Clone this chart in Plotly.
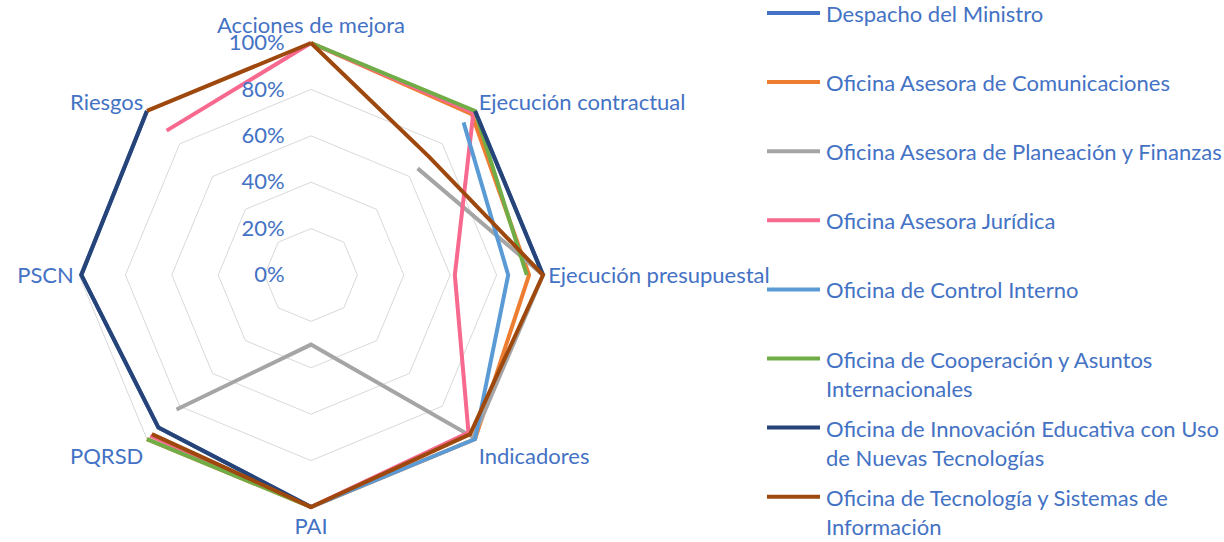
import textwrap
import plotly.graph_objects as go

# Axes of the radar, clockwise from the top
categories = [
    "Acciones de mejora",
    "Ejecución contractual",
    "Ejecución presupuestal",
    "Indicadores",
    "PAI",
    "PQRSD",
    "PSCN",
    "Riesgos",
]

# Series values in percent (None = blank cell, Excel leaves a gap)
despacho = [None, 100, 100, None, 100, 93, 99, 100]
comunicaciones = [100, 98, 94, 100, 100, 100, None, None]
planeacion = [None, 65, 100, 99, 30, 82, None, None]
juridica = [100, 99, 62, 96, 100, 98, None, 88]
control_interno = [None, 93, 85, 100, 100, None, None, None]
cooperacion = [100, 100, 93, None, 100, 100, None, None]
innovacion = [None, 100, 100, None, 100, 93, 99, 100]
tecnologia = [100, 72, 100, 97, 100, 97, None, 100]

series_names = [
    "Despacho del Ministro",
    "Oficina Asesora de Comunicaciones",
    "Oficina Asesora de Planeación y Finanzas",
    "Oficina Asesora Jurídica",
    "Oficina de Control Interno",
    "Oficina de Cooperación y Asuntos Internacionales",
    "Oficina de Innovación Educativa con Uso de Nuevas Tecnologías",
    "Oficina de Tecnología y Sistemas de Información",
]
series_values = [despacho, comunicaciones, planeacion, juridica,
                 control_interno, cooperacion, innovacion, tecnologia]
colors = ["#4472C4", "#ED7D31", "#A5A5A5", "#F7698F",
          "#5B9BD5", "#70AD47", "#264478", "#9E480E"]

radial_ticks = [0, 20, 40, 60, 80, 100]

W, H = 1224, 542
FONT = "Lato"
FSIZE = 22
TEXT_COLOR = "#4472C4"
NBSP = "\u00a0"
R_MAX = 102  # a little headroom so lines at 100% are not clipped

fig = go.Figure()

for name, vals, col in zip(series_names, series_values, colors):
    # close the loop by repeating the first point
    fig.add_trace(go.Scatterpolar(
        r=vals + [vals[0]],
        theta=categories + [categories[0]],
        mode="lines",
        name=name,
        line=dict(color=col, width=4),
        connectgaps=False,
        cliponaxis=False,
        showlegend=False,
    ))

# Polar area: centre (311, 275), 100% ring at 232 px
cx, cy = 311, 275
rad = 232 * R_MAX / 100
fig.update_layout(
    width=W,
    height=H,
    margin=dict(l=0, r=0, t=0, b=0),
    paper_bgcolor="white",
    plot_bgcolor="white",
    font=dict(family=FONT, size=FSIZE, color=TEXT_COLOR),
    polar=dict(
        domain=dict(
            x=[(cx - rad) / W, (cx + rad) / W],
            y=[(H - cy - rad) / H, (H - cy + rad) / H],
        ),
        bgcolor="white",
        gridshape="linear",
        radialaxis=dict(
            range=[0, R_MAX],
            tickvals=radial_ticks,
            ticktext=[f"{v}%" + NBSP * 4 for v in radial_ticks],
            angle=90,
            tickangle=90,
            side="counterclockwise",
            showline=False,
            ticks="",
            gridcolor="#D9D9D9",
            gridwidth=1.3,
            tickfont=dict(family=FONT, size=FSIZE, color=TEXT_COLOR),
        ),
        angularaxis=dict(
            categoryarray=categories,
            rotation=90,
            direction="clockwise",
            showgrid=False,
            showline=False,
            ticks="",
            tickfont=dict(family=FONT, size=FSIZE, color=TEXT_COLOR),
        ),
    ),
)

# Legend on the right, drawn like the Excel one
for i, (name, col) in enumerate(zip(series_names, colors)):
    y_px = 13 + 69.1 * i
    fig.add_shape(
        type="line", xref="paper", yref="paper",
        x0=767 / W, x1=820 / W,
        y0=1 - y_px / H, y1=1 - y_px / H,
        line=dict(color=col, width=4),
    )
    label = "<br>".join(textwrap.wrap(name, 40))
    fig.add_annotation(
        xref="paper", yref="paper",
        x=824 / W, y=1 - (y_px - 15) / H,
        xanchor="left", yanchor="top", align="left",
        text=label, showarrow=False,
        font=dict(family=FONT, size=FSIZE, color=TEXT_COLOR),
    )

# drop the default 8px body margin so the figure sits at the page corner
fig.write_html(
    "out.html",
    config={"displayModeBar": False},
    post_script="document.body.style.margin = '0';",
)
